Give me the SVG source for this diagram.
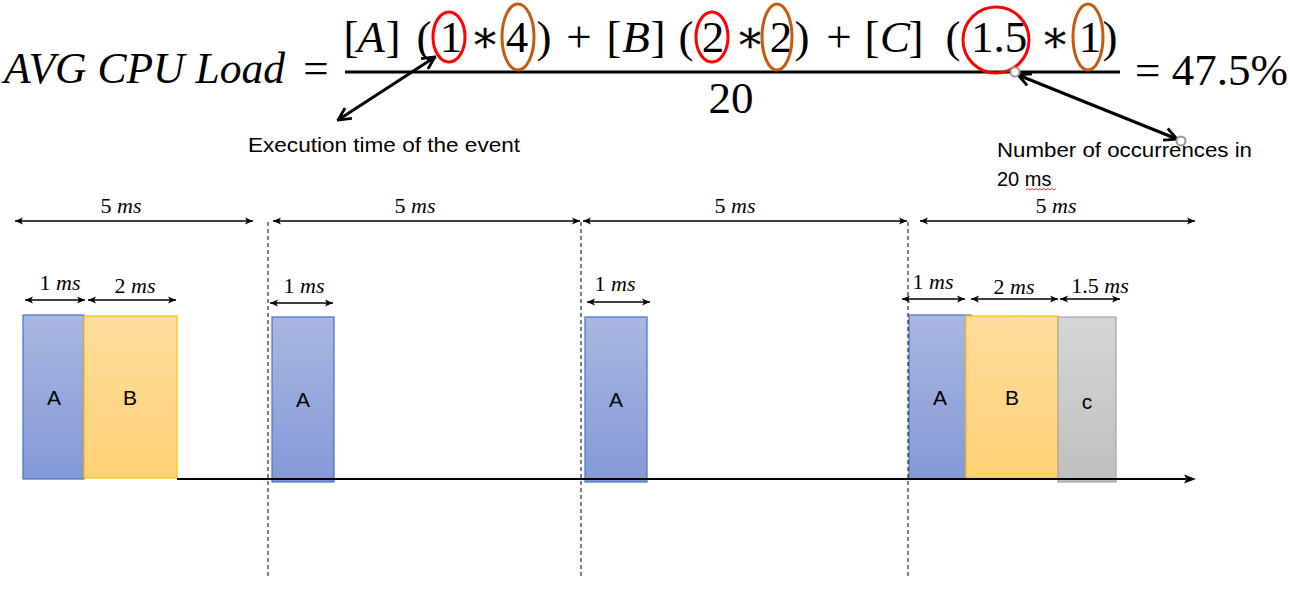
<svg xmlns="http://www.w3.org/2000/svg" width="1290" height="599" viewBox="0 0 1290 599">
<defs>
<linearGradient id="gBlue" x1="0" y1="0" x2="0" y2="1"><stop offset="0" stop-color="#A9B8E1"/><stop offset="1" stop-color="#8399D6"/></linearGradient>
<linearGradient id="gOrange" x1="0" y1="0" x2="0" y2="1"><stop offset="0" stop-color="#FFDD9E"/><stop offset="1" stop-color="#FFD175"/></linearGradient>
<linearGradient id="gGrey" x1="0" y1="0" x2="0" y2="1"><stop offset="0" stop-color="#D6D6D6"/><stop offset="1" stop-color="#BEBEBE"/></linearGradient>
<marker id="tri" viewBox="0 0 10 10" refX="10" refY="5" markerWidth="9" markerHeight="8" markerUnits="userSpaceOnUse" orient="auto-start-reverse"><path d="M0,0.5 L10,5 L0,9.5 L2.5,5 z" fill="#000"/></marker>
<marker id="open" viewBox="0 0 12 12" refX="11" refY="6" markerWidth="15" markerHeight="15" markerUnits="userSpaceOnUse" orient="auto-start-reverse"><path d="M1,1 L11,6 L1,11" fill="none" stroke="#000" stroke-width="2.2" stroke-linejoin="miter"/></marker>
</defs>
<style>
.math{font-family:"Liberation Serif","DejaVu Serif",serif;font-size:45px;fill:#000}
.it{font-style:italic}
.dim{font-family:"Liberation Serif","DejaVu Serif",serif;font-size:22px;fill:#000}
.lbl{font-family:"Liberation Sans","Noto Sans",sans-serif;font-size:21px;fill:#000}
.note{font-family:"Liberation Sans","Noto Sans",sans-serif;font-size:20px;fill:#000}
.thin{stroke:#000;stroke-width:1.3;fill:none;marker-start:url(#tri);marker-end:url(#tri)}
.dash{stroke:#000;stroke-width:1;stroke-dasharray:4,3;fill:none}
.thick{stroke:#000;stroke-width:3;fill:none;marker-start:url(#open);marker-end:url(#open)}
.red{fill:none;stroke:#FF0000;stroke-width:3}
.org{fill:none;stroke:#C55A11;stroke-width:3}
.handle{fill:#fff;stroke:#9A9A9A;stroke-width:2}
.bA{fill:url(#gBlue);stroke:#4472C4;stroke-width:1.2}
.bB{fill:url(#gOrange);stroke:#FFC000;stroke-width:1.2}
.bC{fill:url(#gGrey);stroke:#A5A5A5;stroke-width:1.2}
</style>

<g id="formula">
<text class="math it" x="4" y="83" textLength="281" lengthAdjust="spacingAndGlyphs">AVG CPU Load</text>
<text class="math" x="316" y="83" text-anchor="middle">=</text>
<g text-anchor="middle">
<text class="math" x="351" y="52">[</text>
<text class="math it" x="371" y="52">A</text>
<text class="math" x="393" y="52">]</text>
<text class="math" x="424" y="52">(</text>
<text class="math" x="451" y="52">1</text>
<text class="math" x="485" y="52">∗</text>
<text class="math" x="517" y="52">4</text>
<text class="math" x="544" y="52">)</text>
<text class="math" x="579" y="52">+</text>
<text class="math" x="614" y="52">[</text>
<text class="math it" x="636" y="52">B</text>
<text class="math" x="658" y="52">]</text>
<text class="math" x="686" y="52">(</text>
<text class="math" x="713" y="52">2</text>
<text class="math" x="750" y="52">∗</text>
<text class="math" x="781" y="52">2</text>
<text class="math" x="802" y="52">)</text>
<text class="math" x="839" y="52">+</text>
<text class="math" x="872" y="52">[</text>
<text class="math it" x="895" y="52">C</text>
<text class="math" x="916" y="52">]</text>
<text class="math" x="953" y="52">(</text>
<text class="math" x="999" y="52">1.5</text>
<text class="math" x="1055" y="52">∗</text>
<text class="math" x="1090" y="52">1</text>
<text class="math" x="1110" y="52">)</text>
<text class="math" x="731" y="113">20</text>
</g>
<line x1="345" y1="72" x2="1120" y2="72" stroke="#000" stroke-width="3"/>
<text class="math" x="1135" y="85" font-size="46">= 47.5%</text>
<ellipse class="red" cx="449" cy="37" rx="16" ry="25"/>
<ellipse class="org" cx="518" cy="37" rx="16" ry="33"/>
<ellipse class="red" cx="712" cy="37" rx="16" ry="25"/>
<ellipse class="org" cx="777" cy="37" rx="15" ry="33"/>
<ellipse class="red" cx="996" cy="40" rx="33" ry="33"/>
<ellipse class="org" cx="1088" cy="37" rx="15" ry="33"/>
</g>

<g id="note-execution">
<text class="note" x="248" y="152" textLength="272" lengthAdjust="spacingAndGlyphs">Execution time of the event</text>
</g>
<g id="note-occurrences">
<text class="note" x="997" y="157" textLength="255" lengthAdjust="spacingAndGlyphs">Number of occurrences in</text>
<text class="note" x="997" y="186">20 ms</text>
<path d="M1026,190 l2,-1.5 l2,1.5 l2,-1.5 l2,1.5 l2,-1.5 l2,1.5 l2,-1.5 l2,1.5 l2,-1.5 l2,1.5 l2,-1.5 l2,1.5 l2,-1.5 l2,1.5 l2,-1.5" fill="none" stroke="#FF0000" stroke-width="0.8"/>
</g>

<g id="bars">
<g id="A1"><rect class="bA" x="23" y="315" width="61" height="164"/><text class="lbl" x="54" y="405" text-anchor="middle">A</text></g>
<g id="B1"><rect class="bB" x="84" y="316" width="93" height="162"/><text class="lbl" x="130" y="405" text-anchor="middle">B</text></g>
<g id="A2"><rect class="bA" x="272" y="317" width="62" height="165"/><text class="lbl" x="303" y="407" text-anchor="middle">A</text></g>
<g id="A3"><rect class="bA" x="585" y="317" width="62" height="165"/><text class="lbl" x="616" y="407" text-anchor="middle">A</text></g>
<g id="A4"><rect class="bA" x="909" y="315" width="62" height="164"/><text class="lbl" x="940" y="405" text-anchor="middle">A</text></g>
<g id="B4"><rect class="bB" x="966" y="316" width="92" height="162"/><text class="lbl" x="1012" y="405" text-anchor="middle">B</text></g>
<g id="C4"><rect class="bC" x="1058" y="317" width="58" height="165"/><text class="lbl" x="1087" y="409" text-anchor="middle">c</text></g>
</g>

<g id="labels">
<text class="dim" x="121" y="213" text-anchor="middle">5 <tspan class="it">ms</tspan></text>
<text class="dim" x="415" y="213" text-anchor="middle">5 <tspan class="it">ms</tspan></text>
<text class="dim" x="735" y="213" text-anchor="middle">5 <tspan class="it">ms</tspan></text>
<text class="dim" x="1056" y="213" text-anchor="middle">5 <tspan class="it">ms</tspan></text>
<text class="dim" x="60" y="290" text-anchor="middle">1 <tspan class="it">ms</tspan></text>
<text class="dim" x="135" y="293" text-anchor="middle">2 <tspan class="it">ms</tspan></text>
<text class="dim" x="304" y="293" text-anchor="middle">1 <tspan class="it">ms</tspan></text>
<text class="dim" x="615" y="291" text-anchor="middle">1 <tspan class="it">ms</tspan></text>
<text class="dim" x="933" y="289" text-anchor="middle">1 <tspan class="it">ms</tspan></text>
<text class="dim" x="1014" y="294" text-anchor="middle">2 <tspan class="it">ms</tspan></text>
<text class="dim" x="1100" y="293" text-anchor="middle">1.5 <tspan class="it">ms</tspan></text>
</g>

<g id="connectors">
<line class="thick" x1="338" y1="120" x2="435" y2="57"/>
<line class="thick" x1="1018" y1="75" x2="1177" y2="139"/>
<circle class="handle" cx="1015" cy="72" r="4.5"/>
<circle class="handle" cx="1181" cy="141" r="4.5"/>
<line class="thin" x1="15" y1="221" x2="253" y2="221"/>
<line class="thin" x1="273" y1="221" x2="580" y2="221"/>
<line class="thin" x1="583" y1="221" x2="907" y2="221"/>
<line class="thin" x1="920" y1="221" x2="1195" y2="221"/>
<line class="thin" x1="25" y1="300" x2="85" y2="300"/>
<line class="thin" x1="88" y1="300" x2="176" y2="300"/>
<line class="thin" x1="270" y1="303" x2="333" y2="303"/>
<line class="thin" x1="587" y1="302" x2="650" y2="302"/>
<line class="thin" x1="902" y1="299" x2="965" y2="299"/>
<line class="thin" x1="971" y1="299" x2="1058" y2="299"/>
<line class="thin" x1="1060" y1="299" x2="1120" y2="299"/>
<line class="dash" x1="268" y1="222" x2="268" y2="578"/>
<line class="dash" x1="581" y1="222" x2="581" y2="578"/>
<line class="dash" x1="908" y1="222" x2="908" y2="578"/>
<line x1="177" y1="479" x2="1186" y2="479" stroke="#000" stroke-width="2"/>
<path d="M1196,479 L1184,474.5 L1186.5,479 L1184,483.5 z" fill="#000"/>
</g>
</svg>
